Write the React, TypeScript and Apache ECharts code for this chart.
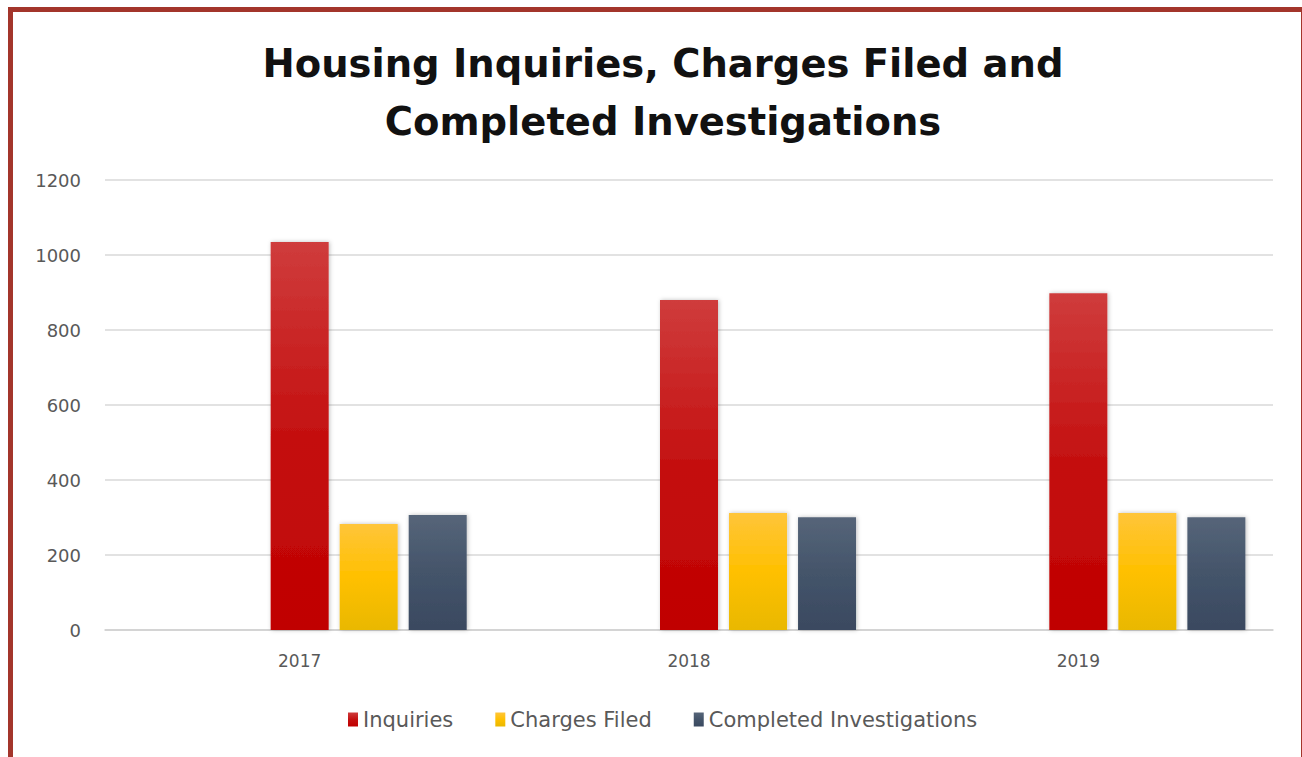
import React, { useEffect, useRef } from "react";
import * as echarts from "echarts";

const categories = ["2017", "2018", "2019"];
const inquiries = [1035, 880, 898];
const chargesFiled = [283, 312, 312];
const completedInvestigations = [307, 301, 301];
const blankSlot = [null, null, null];
const yTicks = { min: 0, max: 1200, interval: 200 };
const titleLines = ["Housing Inquiries, Charges Filed and", "Completed Investigations"];

function grad(top: string, mid: string, bottom: string) {
  return new echarts.graphic.LinearGradient(0, 0, 0, 1, [
    { offset: 0, color: top },
    { offset: 0.5, color: mid },
    { offset: 1, color: bottom },
  ]);
}

export default function App() {
  const ref = useRef<HTMLDivElement>(null);
  useEffect(() => {
    if (!ref.current) return;
    const chart = echarts.init(ref.current, null, { renderer: "svg" });
    const barCommon = {
      type: "bar",
      barWidth: 58,
      barGap: "19%",
      barCategoryGap: "14%",
      itemStyle: {
        shadowColor: "rgba(0,0,0,0.25)",
        shadowBlur: 4,
        shadowOffsetX: 1,
      },
    };
    chart.setOption({
      animation: false,
      backgroundColor: "transparent",
      title: {
        text: titleLines.join("\n"),
        left: 658,
        top: 29,
        textAlign: "center",
        textStyle: {
          fontFamily: "DejaVu Sans",
          fontWeight: "bold",
          fontSize: 38.5,
          lineHeight: 58,
          color: "#111111",
        },
      },
      legend: {
        data: ["Inquiries", "Charges Filed", "Completed Investigations"],
        bottom: 22,
        left: 343,
        itemWidth: 10,
        itemHeight: 14,
        itemGap: 42,
        icon: "rect",
        textStyle: { fontFamily: "DejaVu Sans", fontSize: 21, color: "#595959" },
      },
      grid: { left: 105, right: 29, top: 180, bottom: 127 },
      xAxis: {
        type: "category",
        data: categories,
        axisTick: { show: false },
        axisLine: { lineStyle: { color: "#cfcfcf", width: 1.5 } },
        axisLabel: { fontFamily: "DejaVu Sans", fontSize: 17, color: "#595959", margin: 22 },
      },
      yAxis: {
        type: "value",
        min: yTicks.min,
        max: yTicks.max,
        interval: yTicks.interval,
        axisLine: { show: false },
        axisTick: { show: false },
        splitLine: { lineStyle: { color: "#d9d9d9", width: 1.5 } },
        axisLabel: {
          fontFamily: "DejaVu Sans",
          fontSize: 18,
          color: "#595959",
          margin: 24,
          formatter: (v: number) => String(v),
        },
      },
      series: [
        { ...barCommon, name: "_a", data: blankSlot },
        { ...barCommon, name: "_b", data: blankSlot },
        {
          ...barCommon,
          name: "Inquiries",
          data: inquiries,
          itemStyle: { ...barCommon.itemStyle, color: grad("#cf3c3c", "#c41010", "#c00000") },
        },
        {
          ...barCommon,
          name: "Charges Filed",
          data: chargesFiled,
          itemStyle: { ...barCommon.itemStyle, color: grad("#ffc53a", "#ffc000", "#e9b800") },
        },
        {
          ...barCommon,
          name: "Completed Investigations",
          data: completedInvestigations,
          itemStyle: { ...barCommon.itemStyle, color: grad("#566579", "#44546a", "#3a4960") },
        },
      ],
      color: ["#ffffff", "#ffffff", "#c00000", "#ffc000", "#44546a"],
    });
    return () => chart.dispose();
  }, []);
  return (
    <div style={{ position: "fixed", left: 0, top: 0, width: 1302, height: 757, background: "#fff", overflow: "hidden" }}>
      <div
        style={{
          position: "absolute",
          left: 8,
          top: 7,
          width: 1302 - 8 - 5 - 1,
          height: 800,
          border: "5px solid #a3352b",
          borderRightWidth: 3,
          boxSizing: "content-box",
        }}
      />
      <div ref={ref} style={{ position: "absolute", left: 0, top: 0, width: 1302, height: 757 }} />
    </div>
  );
}
